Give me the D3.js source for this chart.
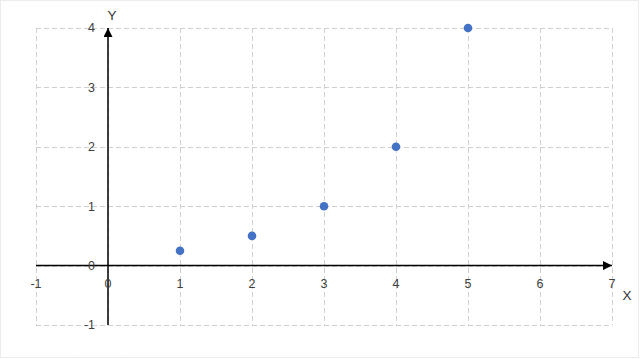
<!DOCTYPE html>
<html>
<head>
<meta charset="utf-8">
<script src="https://cdn.jsdelivr.net/npm/d3@7"></script>
<style>
  html, body { margin: 0; padding: 0; background: #fff; }
  svg { display: block; }
</style>
</head>
<body>
<svg id="chart"></svg>
<script>
// data
const xValues = [1, 2, 3, 4, 5];
const yValues = [0.25, 0.5, 1, 2, 4];
const xTicks = [-1, 0, 1, 2, 3, 4, 5, 6, 7];
const yTicks = [-1, 0, 1, 2, 3, 4];

const W = 640, H = 359;
const svg = d3.select('#chart').attr('width', W).attr('height', H);

// outer chart border
svg.append('rect').attr('x', 0.5).attr('y', 0.5).attr('width', W - 2).attr('height', H - 2)
  .attr('fill', '#fff').attr('stroke', '#d9d9d9').attr('stroke-width', 1).attr('stroke-dasharray', '1,1');

const x = d3.scaleLinear().domain([-1, 7]).range([36, 612]);
const y = d3.scaleLinear().domain([-1, 4]).range([325, 28]);

// dashed grid
const grid = svg.append('g').attr('stroke', '#cfcfcf').attr('stroke-width', 1).attr('stroke-dasharray', '5,3');
grid.selectAll('line.gx').data(xTicks).enter().append('line')
  .attr('x1', d => Math.round(x(d)) + 0.5).attr('x2', d => Math.round(x(d)) + 0.5)
  .attr('y1', y(4)).attr('y2', y(-1));
grid.selectAll('line.gy').data(yTicks).enter().append('line')
  .attr('y1', d => Math.round(y(d)) + 0.5).attr('y2', d => Math.round(y(d)) + 0.5)
  .attr('x1', x(-1)).attr('x2', x(7));

// arrow marker
svg.append('defs').append('marker').attr('id', 'arrow')
  .attr('viewBox', '0 0 10 10').attr('refX', 10).attr('refY', 5)
  .attr('markerWidth', 10).attr('markerHeight', 9).attr('markerUnits', 'userSpaceOnUse')
  .attr('orient', 'auto')
  .append('path').attr('d', 'M0,0 L10,5 L0,10 Z').attr('fill', '#000');

// axes through origin
svg.append('line').attr('x1', x(-1)).attr('x2', x(7)).attr('y1', y(0)).attr('y2', y(0))
  .attr('stroke', '#000').attr('stroke-width', 1.5).attr('marker-end', 'url(#arrow)');
svg.append('line').attr('x1', x(0)).attr('x2', x(0)).attr('y1', y(-1)).attr('y2', y(4))
  .attr('stroke', '#000').attr('stroke-width', 1.5).attr('marker-end', 'url(#arrow)');

// tick labels
const font = '"Liberation Sans", Arial, sans-serif';
svg.append('g').selectAll('text').data(xTicks).enter().append('text')
  .attr('x', d => x(d)).attr('y', y(0) + 22)
  .attr('text-anchor', 'middle').attr('font-family', font).attr('font-size', 12.5)
  .attr('fill', '#404040').text(d => d);
svg.append('g').selectAll('text').data(yTicks).enter().append('text')
  .attr('x', x(0) - 13).attr('y', d => y(d)).attr('dy', '0.35em')
  .attr('text-anchor', 'end').attr('font-family', font).attr('font-size', 12.5)
  .attr('fill', '#404040').text(d => d);

// axis titles
svg.append('text').attr('x', 112).attr('y', 20).attr('text-anchor', 'middle')
  .attr('font-family', font).attr('font-size', 13.5).attr('fill', '#333').text('Y');
svg.append('text').attr('x', 627).attr('y', 300).attr('text-anchor', 'middle')
  .attr('font-family', font).attr('font-size', 13.5).attr('fill', '#333').text('X');

// points
svg.append('g').selectAll('circle').data(xValues).enter().append('circle')
  .attr('cx', d => x(d)).attr('cy', (d, i) => y(yValues[i])).attr('r', 4.3)
  .attr('fill', '#4472c4');
</script>
</body>
</html>
